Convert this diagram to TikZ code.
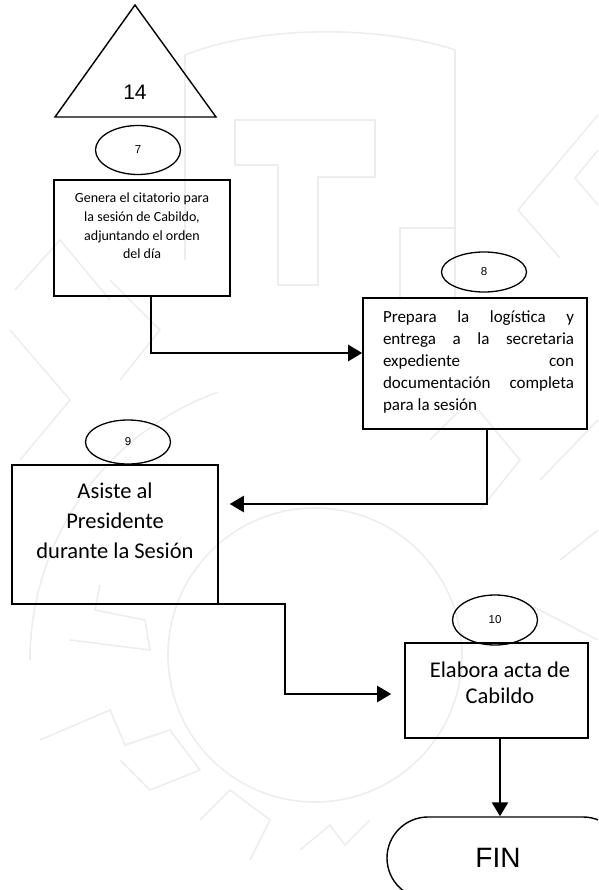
\documentclass[tikz,border=0pt]{standalone}
\usepackage{fontspec}
\setmainfont{Carlito}
\newfontfamily\arialf{Liberation Sans}
\usetikzlibrary{shapes.geometric,arrows.meta}
\begin{document}
\begin{tikzpicture}[x=1pt,y=-1pt,
  wm/.style={draw=black!7,line width=1.6pt},
  stepbox/.style={draw,line width=1.6pt,rectangle,inner sep=0pt},
  numoval/.style={draw,ellipse,line width=1.3pt,inner sep=0pt,font=\arialf\fontsize{11.5}{13}\selectfont},
  boxtext/.style={inner sep=0pt,align=center},
  conn/.style={line width=2.4pt,-{Triangle[length=14pt,width=16pt]}}]
\useasboundingbox (0,0) rectangle (598,890);
\clip (0,0) rectangle (598,890);

% faint background emblem
\draw[wm] (185,260) -- (185,55) .. controls (260,25) and (380,25) .. (455,50) -- (455,300);
\draw[wm] (278,285) -- (278,165) -- (235,165) -- (235,120) -- (375,120) -- (375,177) -- (318,177) -- (318,285) -- cycle;
\draw[wm] (400,300) -- (400,228) -- (455,228);
\draw[wm] (315,655) circle[radius=147];
\draw[wm] (30,660) arc[start angle=180,end angle=250,radius=285];
\draw[wm] (598,115) -- (518,210) -- (560,258);
\draw[wm] (598,150) -- (575,178) -- (598,205);
\draw[wm] (15,290) -- (60,240) -- (110,300);
\draw[wm] (10,330) -- (70,400) -- (20,460);
\draw[wm] (110,280) -- (160,330) -- (120,380);
\draw[wm] (430,440) -- (470,400) -- (520,460) -- (480,510);
\draw[wm] (540,480) -- (598,420);
\draw[wm] (70,640) -- (150,650) -- (145,620) -- (95,610) -- (100,585);
\draw[wm] (40,740) -- (110,710) -- (125,745) -- (170,730) -- (200,770) -- (150,790) -- (120,760);
\draw[wm] (200,820) -- (230,790) -- (270,820) -- (250,860);
\draw[wm] (300,850) -- (330,825) -- (345,845) -- (370,820);
\draw[wm] (560,560) -- (598,530);
\draw[wm] (520,600) -- (598,640);

% off-page connector
\coordinate (triA) at (135,5);
\coordinate (triB) at (216,117);
\coordinate (triC) at (55,117);
\draw[line width=1.4pt,line join=miter] (triA) -- (triB) -- (triC) -- cycle;
\node[inner sep=0pt,font=\arialf\fontsize{21}{24}\selectfont] (t14) at (135,92) {14};

% step 7
\node[numoval,minimum width=85pt,minimum height=49pt] (e7) at (138,150) {7};
\node[stepbox,minimum width=176pt,minimum height=116pt] (b7) at (142,238) {};
\node[boxtext,font=\fontsize{14}{18.7}\selectfont] (t7) at (142,226)
  {Genera el citatorio para\\la sesión de Cabildo,\\adjuntando el orden\\del día};

% step 8
\node[numoval,minimum width=85pt,minimum height=40pt] (e8) at (484,272) {8};
\node[stepbox,minimum width=224pt,minimum height=131pt] (b8) at (475,363.5) {};
\node[inner sep=0pt,text width=191pt,align=justify,font=\fontsize{17}{22.2}\selectfont] (t8) at (478.5,362)
  {Prepara la logística y\linebreak entrega a la secretaria\linebreak expediente con\linebreak documentación completa\linebreak para la sesión};

% step 9
\node[numoval,minimum width=85pt,minimum height=44pt] (e9) at (128,442) {9};
\node[stepbox,minimum width=206pt,minimum height=139pt] (b9) at (115,534.5) {};
\node[boxtext,font=\fontsize{22.5}{30}\selectfont] (t9) at (115,521)
  {Asiste al\\Presidente\\durante la Sesión};

% step 10
\node[numoval,minimum width=85pt,minimum height=50pt] (e10) at (495,620) {10};
\node[stepbox,minimum width=183pt,minimum height=95pt] (b10) at (496.5,690.5) {};
\node[boxtext,font=\fontsize{22.5}{26}\selectfont] (t10) at (500,683)
  {Elabora acta de\\Cabildo};

% end terminal
\node[draw,line width=1.4pt,rectangle,rounded corners=41pt,minimum width=237pt,minimum height=82pt,inner sep=0pt] (fin) at (505.5,858) {};
\node[inner sep=0pt,font=\arialf\fontsize{28}{32}\selectfont] (tfin) at (498,858) {FIN};

% connectors
\draw[conn] ([xshift=98pt]b7.south west) |- ([yshift=10.5pt]b8.west);
\draw[conn] ([xshift=125pt]b8.south west) |- ([xshift=11pt,yshift=30.5pt]b9.east);
\draw[conn] ([xshift=168pt,yshift=0.8pt]b9.south west) -- ++(106,0) |- ([xshift=-13pt,yshift=-3.5pt]b10.west);
\coordinate (c10) at ([xshift=3.5pt]b10.south);
\draw[conn] (c10) -- (c10 |- fin.north);
\end{tikzpicture}
\end{document}
